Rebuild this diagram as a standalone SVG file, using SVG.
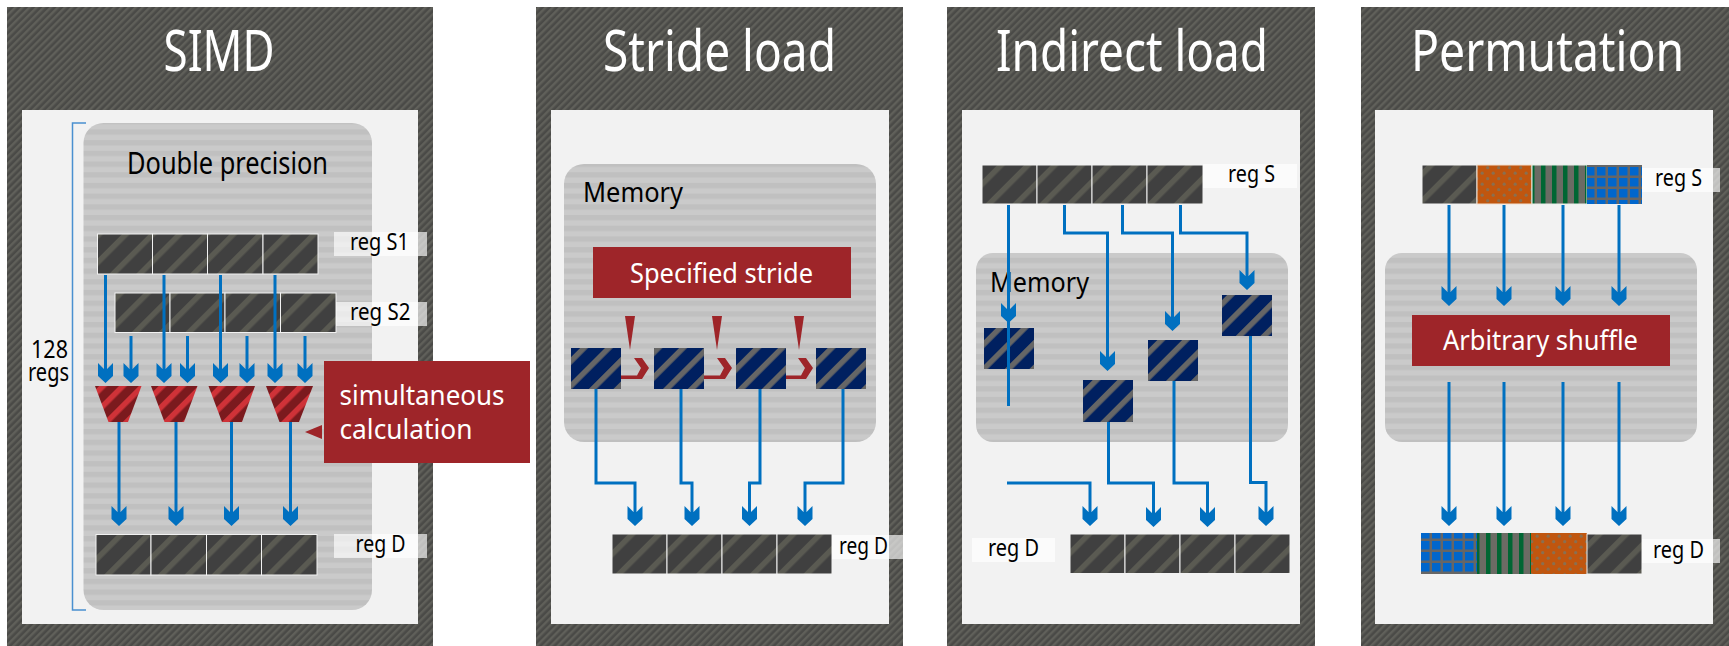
<svg xmlns="http://www.w3.org/2000/svg" width="1729" height="646" viewBox="0 0 1729 646">
<style>
text{font-family:"Noto Sans","Open Sans","Liberation Sans",sans-serif;fill:#000}
.t{font-size:56px;fill:#fff}
.m{font-size:28px}
.n{font-size:25px}
.l{font-size:24px}
.w{font-size:28px;fill:#fff}
.inner{fill:#f2f2f2}
.outer{fill:url(#pOuter)}
.gray{fill:url(#pGray)}
.lab{fill:#fff;fill-opacity:.65}
.red{fill:#9e2529}
.c{fill:url(#pReg);stroke:#f2f2f2;stroke-width:1}
.b{fill:url(#pBlue)}
.tr{fill:url(#pRed)}
#connectors polyline{fill:none;stroke:#0070c0;stroke-width:3}
#connectors .a{marker-end:url(#head)}
</style>
<defs>
<pattern id="pOuter" width="5" height="5" patternUnits="userSpaceOnUse" patternTransform="rotate(45)"><rect width="5" height="5" fill="#4a4a47"/><rect width="2.4" height="5" fill="#60605a"/></pattern>
<pattern id="pGray" width="10.7" height="10.7" patternUnits="userSpaceOnUse" y="1"><rect width="10.7" height="10.7" fill="#cacaca"/><rect width="10.7" height="5.3" fill="#c0c0c0"/></pattern>
<pattern id="pReg" width="19" height="19" patternUnits="userSpaceOnUse" patternTransform="rotate(45 94 234)"><rect width="19" height="19" fill="#404040"/><rect width="5.500" height="19" fill="#5a5a52"/></pattern>
<pattern id="pBlue" width="17.5" height="17.5" patternUnits="userSpaceOnUse" patternTransform="rotate(45 571 348)"><rect width="17.5" height="17.5" fill="#002060"/><rect width="5.500" height="17.5" fill="#666"/></pattern>
<pattern id="pRed" width="14" height="14" patternUnits="userSpaceOnUse" patternTransform="rotate(45 95 386)"><rect width="14" height="14" fill="#7b1a1e"/><rect width="5.500" height="14" fill="#cf3238"/></pattern>
<pattern id="pOrange" width="11" height="11" patternUnits="userSpaceOnUse"><rect width="11" height="11" fill="#c0560f"/><circle cx="2.7" cy="2.7" r="1.6" fill="#8a6f50"/><circle cx="8.2" cy="8.2" r="1.6" fill="#8a6f50"/></pattern>
<pattern id="pGreen" width="11" height="11" patternUnits="userSpaceOnUse"><rect width="11" height="11" fill="#6b6b64"/><rect x="1" width="4.5" height="11" fill="#006633"/></pattern>
<pattern id="pGrid" width="11" height="11" patternUnits="userSpaceOnUse"><rect width="11" height="11" fill="#666"/><rect x="2" y="2" width="8.500" height="8.500" fill="#0066cc"/></pattern>
<marker id="head" markerUnits="userSpaceOnUse" markerWidth="20" markerHeight="16" viewBox="0 0 20 16" refX="10" refY="8" orient="auto"><polygon points="0,0.5 6,6.5 6,9.5 0,15.5 13,15.5 20,8 13,0.5" fill="#0070c0"/></marker>
</defs>

<g id="panel-simd">
<rect class="outer" x="7" y="7" width="426" height="639"/>
<rect class="inner" x="22" y="110" width="396" height="514"/>
<text class="t" x="163.500" y="71" textLength="111" lengthAdjust="spacingAndGlyphs">SIMD</text>
</g>
<g id="panel-stride">
<rect class="outer" x="536" y="7" width="367" height="639"/>
<rect class="inner" x="551" y="110" width="338" height="514"/>
<text class="t" x="603" y="71" textLength="233" lengthAdjust="spacingAndGlyphs">Stride load</text>
</g>
<g id="panel-indirect">
<rect class="outer" x="947" y="7" width="368" height="639"/>
<rect class="inner" x="962" y="110" width="338" height="514"/>
<text class="t" x="996" y="71" textLength="272" lengthAdjust="spacingAndGlyphs">Indirect load</text>
</g>
<g id="panel-permutation">
<rect class="outer" x="1361" y="7" width="368" height="639"/>
<rect class="inner" x="1375" y="110" width="338" height="514"/>
<text class="t" transform="translate(1411 71) scale(.827 1)">Permutation</text>
</g>

<g id="double-precision">
<rect class="gray" x="83.500" y="123" width="288.500" height="487" rx="20"/>
<text x="127" y="174" font-size="30" textLength="201" lengthAdjust="spacingAndGlyphs">Double precision</text>
</g>
<g id="regs-bracket">
<polyline points="86,123 72.500,123 72.500,610 86,610" fill="none" stroke="#4a90d0" stroke-width="1.500"/>
<text class="n" x="31" y="358" textLength="37" lengthAdjust="spacingAndGlyphs">128</text>
<text class="n" x="28" y="381" textLength="41" lengthAdjust="spacingAndGlyphs">regs</text>
</g>
<g id="memory-stride">
<rect class="gray" x="564" y="164" width="312" height="278" rx="20"/>
<text class="m" x="583" y="202" textLength="100" lengthAdjust="spacingAndGlyphs">Memory</text>
</g>
<g id="memory-indirect">
<rect class="gray" x="976" y="253" width="312" height="189" rx="17"/>
<text class="m" x="990" y="292" textLength="99" lengthAdjust="spacingAndGlyphs">Memory</text>
</g>
<g id="memory-permutation">
<rect class="gray" x="1385" y="253" width="312" height="189" rx="17"/>
</g>

<g id="reg-s1">
<rect class="c" x="97.500" y="234" width="55" height="40"/><rect class="c" x="152.500" y="234" width="55" height="40"/><rect class="c" x="207.500" y="234" width="55.500" height="40"/><rect class="c" x="263" y="234" width="55" height="40"/>
<rect class="lab" x="334" y="232" width="93" height="24"/>
<text class="l" x="350" y="250" textLength="59" lengthAdjust="spacingAndGlyphs">reg S1</text>
</g>
<g id="reg-s2">
<rect class="c" x="115" y="293" width="55" height="39.500"/><rect class="c" x="170" y="293" width="55" height="39.500"/><rect class="c" x="225" y="293" width="55.500" height="39.500"/><rect class="c" x="280.500" y="293" width="55.500" height="39.500"/>
<rect class="lab" x="336" y="302" width="91" height="24"/>
<text class="l" x="350" y="320" textLength="60.500" lengthAdjust="spacingAndGlyphs">reg S2</text>
</g>
<g id="alu-1"><polygon class="tr" points="95,386 141.500,386 128,422 108.500,422"/></g>
<g id="alu-2"><polygon class="tr" points="151,386 197.500,386 184,422 164.500,422"/></g>
<g id="alu-3"><polygon class="tr" points="208.500,386 255,386 242,422 222,422"/></g>
<g id="alu-4"><polygon class="tr" points="266,386 313,386 299,422 279.500,422"/></g>
<g id="reg-d-simd">
<rect class="c" x="96" y="534.500" width="55" height="40.500"/><rect class="c" x="151" y="534.500" width="55.500" height="40.500"/><rect class="c" x="206.500" y="534.500" width="55" height="40.500"/><rect class="c" x="261.500" y="534.500" width="55.500" height="40.500"/>
<rect class="lab" x="334" y="534" width="93" height="24"/>
<text class="l" x="355.500" y="552" textLength="50" lengthAdjust="spacingAndGlyphs">reg D</text>
</g>

<g id="stride-label">
<rect class="red" x="593" y="247" width="258" height="51"/>
<text class="w" x="630" y="283" textLength="183" lengthAdjust="spacingAndGlyphs">Specified stride</text>
</g>
<g id="mem-s1"><rect class="b" x="571" y="348" width="50" height="41"/></g>
<g id="mem-s2"><rect class="b" x="654" y="348" width="50" height="41"/></g>
<g id="mem-s3"><rect class="b" x="736" y="348" width="50" height="41"/></g>
<g id="mem-s4"><rect class="b" x="816" y="348" width="50" height="41"/></g>
<g id="stride-marks" class="red">
<polygon points="625,316 635,316 630,350"/><polygon points="712,316 722,316 717,350"/><polygon points="794,316 804,316 799,350"/>
<polygon points="621,375.500 637,375.500 641,368 634,358 642,358 649,368 642,379 621,379"/>
<polygon points="704,375.500 720,375.500 724,368 717,358 725,358 732,368 725,379 704,379"/>
<polygon points="786,375.500 801,375.500 805,368 798,358 806,358 813,368 806,379 786,379"/>
</g>
<g id="reg-d-stride">
<rect class="c" x="612" y="534" width="55" height="40"/><rect class="c" x="667" y="534" width="55" height="40"/><rect class="c" x="722" y="534" width="55" height="40"/><rect class="c" x="777" y="534" width="55" height="40"/>
<rect class="lab" x="832" y="535" width="71" height="24"/>
<text class="l" x="839" y="554" textLength="49" lengthAdjust="spacingAndGlyphs">reg D</text>
</g>

<g id="reg-s-indirect">
<rect class="c" x="982" y="165" width="55" height="39"/><rect class="c" x="1037" y="165" width="55" height="39"/><rect class="c" x="1092" y="165" width="55" height="39"/><rect class="c" x="1147" y="165" width="56" height="39"/>
<rect class="lab" x="1203" y="164" width="94" height="24"/>
<text class="l" x="1228" y="182" textLength="47" lengthAdjust="spacingAndGlyphs">reg S</text>
</g>
<g id="mem-i1"><rect class="b" x="984" y="328" width="50" height="41"/></g>
<g id="mem-i2"><rect class="b" x="1083" y="380" width="50" height="42"/></g>
<g id="mem-i3"><rect class="b" x="1148" y="340" width="50" height="41"/></g>
<g id="mem-i4"><rect class="b" x="1222" y="295" width="50" height="41"/></g>
<g id="reg-d-indirect">
<rect class="c" x="1070" y="534" width="55" height="39.500"/><rect class="c" x="1125" y="534" width="55" height="39.500"/><rect class="c" x="1180" y="534" width="55" height="39.500"/><rect class="c" x="1235" y="534" width="55" height="39.500"/>
<rect class="lab" x="972" y="538" width="83" height="24"/>
<text class="l" x="988" y="556" textLength="51" lengthAdjust="spacingAndGlyphs">reg D</text>
</g>

<g id="reg-s-permutation">
<rect x="1422" y="165" width="55" height="39" class="c"/>
<rect x="1477" y="165" width="55" height="39" fill="url(#pOrange)" stroke="#f2e0d0"/>
<rect x="1532" y="165" width="55" height="39" fill="url(#pGreen)" stroke="#e8efe8"/>
<rect x="1587" y="165" width="55" height="39" fill="url(#pGrid)"/>
<rect class="lab" x="1642" y="168" width="78" height="24"/>
<text class="l" x="1655" y="186" textLength="47" lengthAdjust="spacingAndGlyphs">reg S</text>
</g>
<g id="shuffle-label">
<rect class="red" x="1412" y="315" width="258" height="51"/>
<text class="w" x="1443" y="350" textLength="195" lengthAdjust="spacingAndGlyphs">Arbitrary shuffle</text>
</g>
<g id="reg-d-permutation">
<rect x="1421" y="533" width="56" height="41" fill="url(#pGrid)"/>
<rect x="1477" y="533" width="54" height="41" fill="url(#pGreen)"/>
<rect x="1531" y="533" width="56" height="41" fill="url(#pOrange)"/>
<rect x="1587" y="534" width="55" height="40" class="c"/>
<rect class="lab" x="1642" y="539" width="78" height="24"/>
<text class="l" x="1653" y="558" textLength="51" lengthAdjust="spacingAndGlyphs">reg D</text>
</g>

<g id="connectors">
<polyline class="a" points="105.500,275 105.500,373"/><polyline class="a" points="164,275 164,373"/><polyline class="a" points="220.500,275 220.500,373"/><polyline class="a" points="275,275 275,373"/>
<polyline class="a" points="131,336 131,373"/><polyline class="a" points="187.500,336 187.500,373"/><polyline class="a" points="247,336 247,373"/><polyline class="a" points="305,336 305,373"/>
<polyline class="a" points="119,422 119,516"/><polyline class="a" points="176,422 176,516"/><polyline class="a" points="231.500,422 231.500,516"/><polyline class="a" points="290.500,422 290.500,516"/>

<polyline class="a" points="596,389 596,483 635,483 635,516"/>
<polyline class="a" points="681,389 681,483 692,483 692,516"/>
<polyline class="a" points="760,389 760,483 749.500,483 749.500,516"/>
<polyline class="a" points="843,389 843,483 805,483 805,516"/>

<polyline points="1008.500,205 1008.500,406"/>
<polyline class="a" points="1008.500,290 1008.500,313"/>
<polyline class="a" points="1064.500,205 1064.500,233 1107.500,233 1107.500,361"/>
<polyline class="a" points="1122.500,205 1122.500,233 1172.500,233 1172.500,321"/>
<polyline class="a" points="1180.500,205 1180.500,233 1247,233 1247,280"/>
<polyline class="a" points="1007,483 1090,483 1090,516"/>
<polyline class="a" points="1108.500,422 1108.500,483 1153.500,483 1153.500,517"/>
<polyline class="a" points="1174,381 1174,483 1207.500,483 1207.500,517"/>
<polyline class="a" points="1250.500,336 1250.500,482.500 1266,482.500 1266,516"/>

<polyline class="a" points="1449,205 1449,296"/><polyline class="a" points="1504,205 1504,296"/><polyline class="a" points="1563,205 1563,296"/><polyline class="a" points="1619,205 1619,296"/>
<polyline class="a" points="1449,382 1449,516"/><polyline class="a" points="1504,382 1504,516"/><polyline class="a" points="1563,382 1563,516"/><polyline class="a" points="1619,382 1619,516"/>
</g>

<g id="callout">
<polygon class="red" points="305,432 322,425 322,439"/>
<rect class="red" x="324" y="361" width="206" height="102"/>
<text class="w" x="339.500" y="405" textLength="165" lengthAdjust="spacingAndGlyphs">simultaneous</text>
<text class="w" x="339.500" y="439" textLength="133" lengthAdjust="spacingAndGlyphs">calculation</text>
</g>
</svg>
